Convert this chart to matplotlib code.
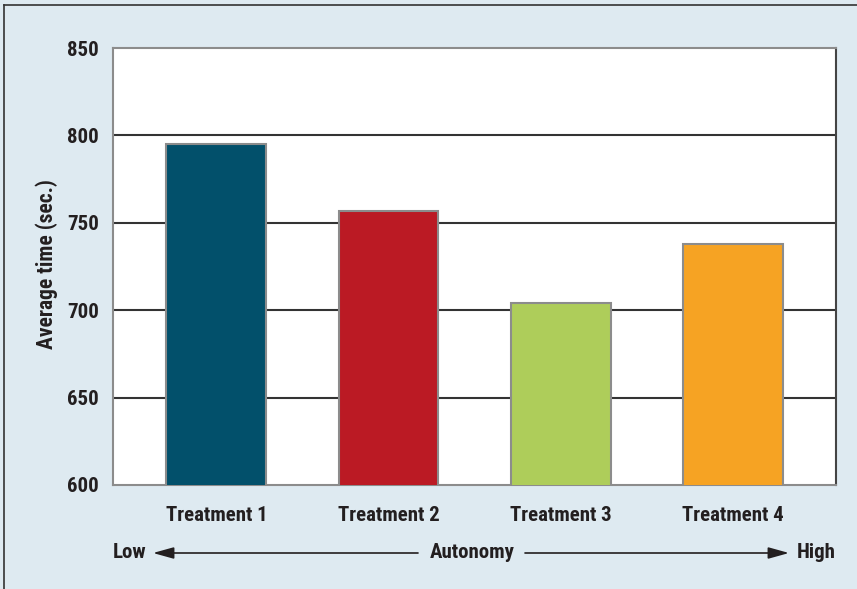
import matplotlib.pyplot as plt
from matplotlib.lines import Line2D
from matplotlib.patches import FancyArrowPatch

categories = ["Treatment 1", "Treatment 2", "Treatment 3", "Treatment 4"]
avg_time = [795, 757, 704, 738]
bar_colors = ["#02506b", "#bb1a24", "#aecd5a", "#f6a323"]
yticks = [600, 650, 700, 750, 800, 850]

plt.rcParams['font.family'] = ['Roboto Condensed', 'DejaVu Sans']
plt.rcParams['font.weight'] = 'bold'

bg = "#deeaf1"
txt = "#231f20"
fs = 15
fig = plt.figure(figsize=(8.57, 5.89), dpi=100, facecolor=bg)
ax = fig.add_axes([0.1319, 0.1766, 0.8436, 0.7419])

x = range(len(categories))
ax.bar(x, avg_time, width=0.58, bottom=0, color=bar_colors,
       edgecolor="#8c8c8c", linewidth=1.5, zorder=3)

ax.set_ylim(600, 850)
ax.set_xlim(-0.6, 3.6)
ax.set_yticks(yticks)
ax.set_yticklabels([str(t) for t in yticks], fontsize=fs, fontweight='bold', color=txt)
ax.set_xticks(list(x))
ax.set_xticklabels(categories, fontsize=fs, fontweight='bold', color=txt)
ax.tick_params(axis='both', length=0)
ax.tick_params(axis='y', pad=10)
ax.tick_params(axis='x', pad=15)

for t in yticks[1:-1]:
    ax.axhline(t, color="#333333", linewidth=1.5, zorder=2)

for side in ['left', 'top', 'bottom']:
    ax.spines[side].set_color("#8c8c8c")
    ax.spines[side].set_linewidth(1.5)
ax.spines['right'].set_color("#444444")
ax.spines['right'].set_linewidth(1.5)

ax.set_ylabel("Average time (sec.)", fontsize=15.5, fontweight='bold', color=txt)
ax.yaxis.set_label_coords(-0.076, 0.505)

# autonomy scale below the chart
ty = 1 - 552 / 589
fig.text(113 / 857, ty, "Low", fontsize=fs, fontweight='bold', color=txt,
         ha='left', va='center')
fig.text(472 / 857, ty, "Autonomy", fontsize=fs, fontweight='bold', color=txt,
         ha='center', va='center')
fig.text(836 / 857, ty, "High", fontsize=fs, fontweight='bold', color=txt,
         ha='right', va='center')
ay = 1 - 553 / 589
fig.patches.append(FancyArrowPatch(
    (418 / 857, ay), (153 / 857, ay), transform=fig.transFigure,
    arrowstyle='-|>,head_length=0.9,head_width=0.25', mutation_scale=14,
    color=txt, linewidth=1.2, shrinkA=0, shrinkB=0))
fig.patches.append(FancyArrowPatch(
    (525 / 857, ay), (789 / 857, ay), transform=fig.transFigure,
    arrowstyle='-|>,head_length=0.9,head_width=0.25', mutation_scale=14,
    color=txt, linewidth=1.2, shrinkA=0, shrinkB=0))

# outer frame (left and top edges)
fig.add_artist(Line2D([4 / 857, 4 / 857], [0, 1 - 5 / 589], transform=fig.transFigure,
                      color="#333333", linewidth=1.2))
fig.add_artist(Line2D([4 / 857, 1], [1 - 5 / 589, 1 - 5 / 589], transform=fig.transFigure,
                      color="#333333", linewidth=1.2))

fig.savefig("out.png", dpi=100, facecolor=bg)
